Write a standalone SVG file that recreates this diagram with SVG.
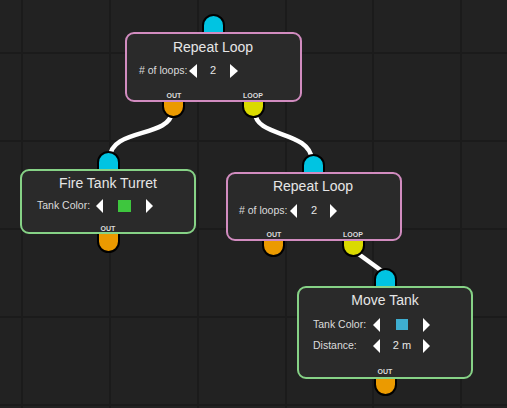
<svg xmlns="http://www.w3.org/2000/svg" width="507" height="408" viewBox="0 0 507 408">
<defs>
<style>
.bg{fill:#222222}
.grid{stroke:#1b1b1b;stroke-width:2}
.node{fill:#2a2a2a;stroke-width:2}
.loop{stroke:#d28cc0}
.act{stroke:#86d286}
.title{font-family:"Liberation Sans",Arial,sans-serif;font-size:14px;fill:#e6e6e6;text-anchor:middle}
.lbl{font-family:"Liberation Sans",Arial,sans-serif;font-size:10.5px;fill:#dcdcdc}
.val{font-family:"Liberation Sans",Arial,sans-serif;font-size:11px;fill:#e6e6e6;text-anchor:middle}
.tiny{font-family:"Liberation Sans",Arial,sans-serif;font-size:7px;fill:#dcdcdc;text-anchor:middle;font-weight:bold}
.arr{fill:#ffffff}
.port{stroke:#000000;stroke-width:2}
.pin{fill:#00c4e2}
.pout{fill:#eb9a00}
.ploop{fill:#dada00}
.wire{fill:none;stroke:#ffffff;stroke-width:4.5;stroke-linecap:butt}
</style>
</defs>
<rect class="bg" x="0" y="0" width="507" height="408"/>
<g id="grid">
<line class="grid" x1="22" y1="0" x2="22" y2="408"/>
<line class="grid" x1="110" y1="0" x2="110" y2="408"/>
<line class="grid" x1="198" y1="0" x2="198" y2="408"/>
<line class="grid" x1="286" y1="0" x2="286" y2="408"/>
<line class="grid" x1="373" y1="0" x2="373" y2="408"/>
<line class="grid" x1="461" y1="0" x2="461" y2="408"/>
<line class="grid" x1="0" y1="53" x2="507" y2="53"/>
<line class="grid" x1="0" y1="141" x2="507" y2="141"/>
<line class="grid" x1="0" y1="229" x2="507" y2="229"/>
<line class="grid" x1="0" y1="317" x2="507" y2="317"/>
<line class="grid" x1="0" y1="405" x2="507" y2="405"/>
</g>
<g id="connectors">
<path class="wire" d="M172,112 C170,138 110,128 110,158"/>
<path class="wire" d="M255,112 C255,138 310,130 312,160"/>
<path class="wire" d="M353,250 L386,274"/>
</g>
<g id="repeat-loop-1">
<rect class="port pin" x="203" y="15" width="21" height="40" rx="10.5"/>
<rect class="port pout" x="163" y="80" width="21" height="37" rx="10.5"/>
<rect class="port ploop" x="243" y="80" width="21" height="37" rx="10.5"/>
<rect class="node loop" x="126" y="33" width="175" height="68" rx="8"/>
<text class="title" x="213" y="52">Repeat Loop</text>
<text class="lbl" x="139" y="74"># of loops:</text>
<polygon class="arr" points="197,64 197,78 189,71"/>
<text class="val" x="213" y="74">2</text>
<polygon class="arr" points="230,64 230,78 238,71"/>
<text class="tiny" x="174" y="98">OUT</text>
<text class="tiny" x="253" y="98">LOOP</text>
</g>
<g id="fire-tank-turret">
<rect class="port pin" x="98" y="152" width="21" height="40" rx="10.5"/>
<rect class="port pout" x="98" y="215" width="21" height="37" rx="10.5"/>
<rect class="node act" x="21" y="170" width="174" height="63" rx="8"/>
<text class="title" x="108" y="188">Fire Tank Turret</text>
<text class="lbl" x="37" y="209">Tank Color:</text>
<polygon class="arr" points="103,199 103,213 96,206"/>
<rect x="118" y="200" width="13" height="12" fill="#3ec63e"/>
<polygon class="arr" points="146,199 146,213 153,206"/>
<text class="tiny" x="108" y="231">OUT</text>
</g>
<g id="repeat-loop-2">
<rect class="port pin" x="303" y="155" width="21" height="40" rx="10.5"/>
<rect class="port pout" x="263" y="219" width="21" height="37" rx="10.5"/>
<rect class="port ploop" x="343" y="219" width="21" height="37" rx="10.5"/>
<rect class="node loop" x="227" y="173" width="174" height="67" rx="8"/>
<text class="title" x="313" y="191">Repeat Loop</text>
<text class="lbl" x="239" y="214"># of loops:</text>
<polygon class="arr" points="297,204 297,218 290,211"/>
<text class="val" x="314" y="214">2</text>
<polygon class="arr" points="330,204 330,218 337,211"/>
<text class="tiny" x="274" y="237">OUT</text>
<text class="tiny" x="353" y="237">LOOP</text>
</g>
<g id="move-tank">
<rect class="port pin" x="375" y="269" width="21" height="40" rx="10.5"/>
<rect class="port pout" x="375" y="358" width="21" height="37" rx="10.5"/>
<rect class="node act" x="298" y="287" width="174" height="91" rx="8"/>
<text class="title" x="385" y="305">Move Tank</text>
<text class="lbl" x="313" y="328">Tank Color:</text>
<polygon class="arr" points="380,318 380,332 373,325"/>
<rect x="396" y="319" width="12" height="11" fill="#3eaed0"/>
<polygon class="arr" points="423,318 423,332 430,325"/>
<text class="lbl" x="313" y="349">Distance:</text>
<polygon class="arr" points="380,339 380,353 373,346"/>
<text class="val" x="402" y="349">2 m</text>
<polygon class="arr" points="423,339 423,353 430,346"/>
<text class="tiny" x="385" y="374">OUT</text>
</g>
</svg>
